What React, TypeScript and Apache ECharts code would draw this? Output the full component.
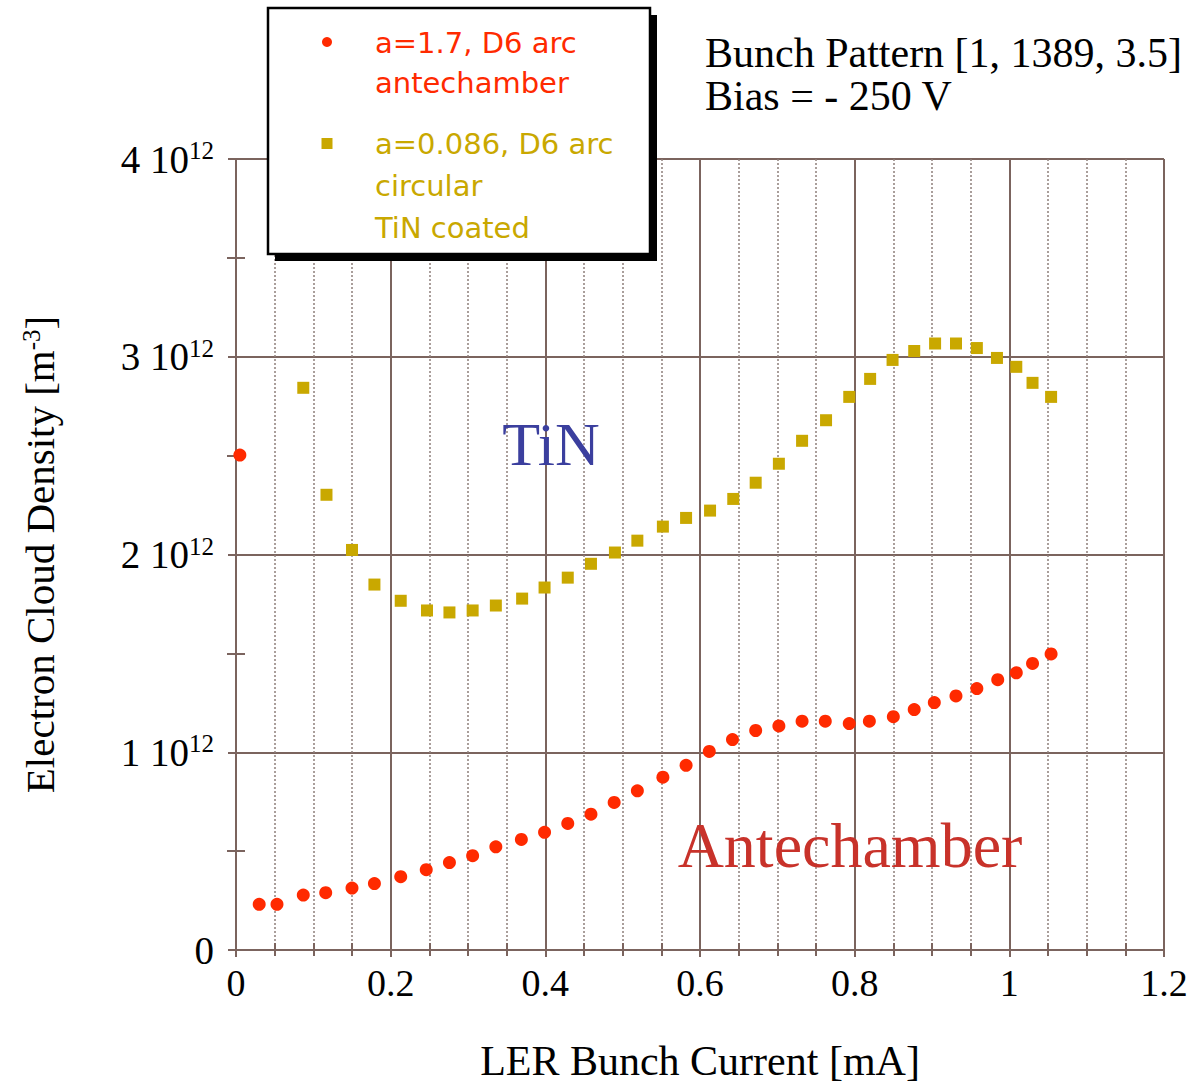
import React, { useEffect, useRef } from "react";
import * as echarts from "echarts";

// Data (x in mA, y in units of 1e12 m^-3)
const antechamberX = [0.005, 0.030, 0.053, 0.087, 0.116, 0.150, 0.179, 0.213, 0.246, 0.276, 0.306, 0.336, 0.369, 0.399, 0.429, 0.459, 0.489, 0.519, 0.552, 0.582, 0.612, 0.642, 0.672, 0.702, 0.732, 0.762, 0.793, 0.819, 0.850, 0.877, 0.903, 0.931, 0.958, 0.985, 1.009, 1.030, 1.054];
const antechamberY = [2.503, 0.231, 0.231, 0.278, 0.290, 0.313, 0.336, 0.371, 0.406, 0.442, 0.477, 0.522, 0.559, 0.595, 0.640, 0.687, 0.746, 0.805, 0.874, 0.934, 1.004, 1.064, 1.110, 1.133, 1.157, 1.157, 1.145, 1.157, 1.180, 1.216, 1.251, 1.285, 1.322, 1.367, 1.402, 1.449, 1.497];

const tinX = [0.087, 0.117, 0.150, 0.179, 0.213, 0.247, 0.276, 0.306, 0.336, 0.370, 0.399, 0.429, 0.459, 0.490, 0.519, 0.552, 0.582, 0.613, 0.643, 0.672, 0.702, 0.732, 0.763, 0.793, 0.820, 0.849, 0.877, 0.904, 0.931, 0.958, 0.984, 1.009, 1.030, 1.054];
const tinY = [2.843, 2.302, 2.023, 1.848, 1.766, 1.717, 1.707, 1.717, 1.742, 1.777, 1.833, 1.883, 1.953, 2.010, 2.070, 2.141, 2.185, 2.222, 2.281, 2.363, 2.459, 2.575, 2.679, 2.797, 2.888, 2.984, 3.029, 3.067, 3.067, 3.044, 2.994, 2.949, 2.868, 2.797];

const legendRed = ["a=1.7, D6 arc", "antechamber"];
const legendYellow = ["a=0.086, D6 arc", "circular", "TiN coated"];
const noteLines = ["Bunch Pattern [1, 1389, 3.5]", "Bias = - 250 V"];

const AXIS = "#7b645e";
const MINOR = "#8e7f7b";
const RED = "#ff2a00";
const YEL = "#c9a800";
const SERIF = "'Liberation Serif', 'Times New Roman', serif";
const SANS = "'DejaVu Sans', Verdana, sans-serif";

export default function App() {
  const ref = useRef<HTMLDivElement>(null);
  useEffect(() => {
    if (!ref.current) return;
    const chart = echarts.init(ref.current, null, { renderer: "svg" });
    const xFmt = (v: number) => String(Math.round(v * 10) / 10);
    const option: any = {
      animation: false,
      backgroundColor: "#ffffff",
      grid: { left: 236, top: 159, right: 27, bottom: 135, show: false },
      xAxis: [
        {
          type: "value",
          position: "bottom",
          min: 0,
          max: 1.2,
          interval: 0.2,
          name: "LER Bunch Current [mA]",
          nameLocation: "middle",
          nameGap: 90,
          nameTextStyle: { fontFamily: SERIF, fontSize: 42, color: "#000" },
          axisLine: { show: true, lineStyle: { color: AXIS, width: 2 } },
          axisTick: { show: true, inside: true, length: 8, lineStyle: { color: AXIS, width: 2 } },
          minorTick: { show: true, splitNumber: 4, length: 7, lineStyle: { color: AXIS, width: 2 } },
          axisLabel: { fontFamily: SERIF, fontSize: 38, color: "#000", margin: 14, formatter: xFmt },
          splitLine: { show: true, lineStyle: { color: AXIS, width: 2 } },
          minorSplitLine: { show: true, lineStyle: { color: MINOR, width: 1.5, type: [2, 2] } },
        },
        {
          type: "value",
          position: "top",
          min: 0,
          max: 1.2,
          interval: 0.2,
          axisLine: { show: true, lineStyle: { color: AXIS, width: 2 } },
          axisTick: { show: true, inside: true, length: 7, lineStyle: { color: AXIS, width: 2 } },
          minorTick: { show: true, splitNumber: 4, length: 6, lineStyle: { color: AXIS, width: 2 } },
          axisLabel: { show: false },
          splitLine: { show: false },
        },
      ],
      yAxis: [
        {
          type: "value",
          position: "left",
          min: 0,
          max: 4,
          interval: 1,
          name: "Electron Cloud Density [m{s|-3}]",
          nameLocation: "middle",
          nameGap: 176,
          nameTextStyle: {
            fontFamily: SERIF,
            fontSize: 41,
            color: "#000",
            rich: { s: { fontFamily: SERIF, fontSize: 25, verticalAlign: "top", lineHeight: 24 } },
          },
          axisLine: { show: true, lineStyle: { color: AXIS, width: 2 } },
          axisTick: { show: true, inside: true, length: 8, lineStyle: { color: AXIS, width: 2 } },
          minorTick: { show: true, splitNumber: 2, length: 9, lineStyle: { color: AXIS, width: 2 } },
          axisLabel: {
            fontFamily: SERIF,
            fontSize: 39,
            color: "#000",
            margin: 22,
            formatter: (v: number) => (v === 0 ? "0" : `{n|${v} 10}{s|12}`),
            rich: {
              n: { fontFamily: SERIF, fontSize: 39, color: "#000", lineHeight: 42 },
              s: { fontFamily: SERIF, fontSize: 25, color: "#000", verticalAlign: "top", lineHeight: 18 },
            },
          },
          splitLine: { show: true, lineStyle: { color: AXIS, width: 2 } },
        },
        {
          type: "value",
          position: "right",
          min: 0,
          max: 4,
          interval: 1,
          axisLine: { show: true, lineStyle: { color: AXIS, width: 2 } },
          axisTick: { show: true, inside: true, length: 8, lineStyle: { color: AXIS, width: 2 } },
          minorTick: { show: true, splitNumber: 2, length: 9, lineStyle: { color: AXIS, width: 2 } },
          axisLabel: { show: false },
          splitLine: { show: false },
        },
      ],
      series: [
        {
          name: "a=1.7, D6 arc antechamber",
          type: "scatter",
          xAxisIndex: 0,
          yAxisIndex: 0,
          symbol: "circle",
          symbolSize: 13,
          itemStyle: { color: RED, opacity: 1 },
          data: antechamberX.map((x, i) => [x, antechamberY[i]]),
          z: 5,
        },
        {
          name: "a=0.086, D6 arc circular TiN coated",
          type: "scatter",
          xAxisIndex: 0,
          yAxisIndex: 0,
          symbol: "rect",
          symbolSize: 12,
          itemStyle: { color: YEL, opacity: 1 },
          data: tinX.map((x, i) => [x, tinY[i]]),
          z: 5,
        },
      ],
      graphic: [
        // legend box with shadow
        { type: "rect", z: 100, shape: { x: 275, y: 15, width: 382, height: 246 }, style: { fill: "#000" } },
        { type: "rect", z: 101, shape: { x: 268, y: 8, width: 382, height: 246 }, style: { fill: "#fff", stroke: "#000", lineWidth: 2.5 } },
        { type: "circle", z: 102, shape: { cx: 327, cy: 42, r: 5 }, style: { fill: RED } },
        { type: "rect", z: 102, shape: { x: 321.5, y: 138, width: 11, height: 11 }, style: { fill: YEL } },
        ...legendRed.map((t, i) => ({
          type: "text", z: 102, x: 375, y: 43 + i * 40,
          style: { text: t, fill: RED, font: `29px ${SANS}`, textAlign: "left", textVerticalAlign: "middle" },
        })),
        ...legendYellow.map((t, i) => ({
          type: "text", z: 102, x: 375, y: 144 + i * 42,
          style: { text: t, fill: YEL, font: `29px ${SANS}`, textAlign: "left", textVerticalAlign: "middle" },
        })),
        ...noteLines.map((t, i) => ({
          type: "text", z: 102, x: 705, y: 53 + i * 43,
          style: { text: t, fill: "#000", font: `42px ${SERIF}`, textAlign: "left", textVerticalAlign: "middle" },
        })),
        {
          type: "text", z: 50, x: 551, y: 444,
          style: { text: "TiN", fill: "#3b3f9e", font: `62px ${SERIF}`, textAlign: "center", textVerticalAlign: "middle" },
        },
        {
          type: "text", z: 50, x: 850, y: 845,
          style: { text: "Antechamber", fill: "#c8322a", font: `64px ${SERIF}`, textAlign: "center", textVerticalAlign: "middle" },
        },
      ],
    };
    chart.setOption(option);
    return () => chart.dispose();
  }, []);
  return (
    <div
      ref={ref}
      style={{ position: "absolute", left: 0, top: 0, width: 1191, height: 1087, background: "#fff" }}
    />
  );
}
